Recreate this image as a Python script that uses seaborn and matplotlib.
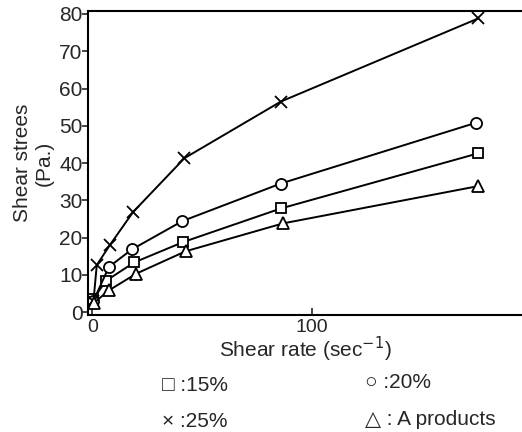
import matplotlib
matplotlib.use("Agg")
import matplotlib.pyplot as plt
import pandas as pd
import seaborn as sns

# values
rate_15 = [0.5, 6.0, 19.0, 41.5, 86.0, 176.0]
stress_15 = [3.5, 8.3, 13.3, 18.8, 27.8, 42.6]

rate_20 = [0.5, 7.5, 18.0, 41.0, 86.0, 175.0]
stress_20 = [3.0, 12.1, 16.8, 24.4, 34.5, 50.8]

rate_25 = [0.5, 2.0, 8.0, 18.5, 42.0, 86.0, 176.0]
stress_25 = [3.0, 12.6, 18.0, 26.8, 41.3, 56.5, 78.8]

rate_a = [0.8, 7.5, 20.0, 42.5, 87.0, 176.0]
stress_a = [2.5, 5.8, 10.3, 16.3, 23.8, 33.8]

series = [
    ("15%", rate_15, stress_15, "s", 7.5),
    ("20%", rate_20, stress_20, "o", 8),
    ("25%", rate_25, stress_25, "x", 9),
    ("A products", rate_a, stress_a, "^", 9),
]

sns.set_theme(style="ticks")
plt.rcParams["font.family"] = ["Liberation Sans", "DejaVu Sans"]

fig = plt.figure(figsize=(5.22, 4.32), dpi=100)
ax = fig.add_axes([0.1686, 0.2708, 0.8314, 0.7037])

for name, xs, ys, marker, size in series:
    df = pd.DataFrame({"rate": xs, "stress": ys})
    sns.lineplot(
        data=df,
        x="rate",
        y="stress",
        ax=ax,
        color="black",
        linewidth=1.4,
        marker=marker,
        markersize=size,
        markerfacecolor="white",
        markeredgecolor="black",
        markeredgewidth=1.3,
        legend=False,
    )

ax.set_xlim(-2, 196)
ax.set_ylim(-0.8, 80.8)
ax.set_xticks([0, 100])
ax.set_yticks(range(0, 81, 10))
ax.tick_params(axis="x", direction="in", length=5, width=1.2, labelsize=14, pad=3)
ax.tick_params(axis="y", direction="out", length=4, width=1.2, labelsize=15, pad=0)
for side in ["left", "bottom", "top"]:
    ax.spines[side].set_linewidth(1.5)
    ax.spines[side].set_color("black")
ax.spines["right"].set_visible(False)

ax.set_xlabel("Shear rate (sec$^{-1}$)", fontsize=15, labelpad=-1)
ax.set_ylabel("Shear strees\n(Pa.)", fontsize=15, labelpad=4, linespacing=1.2)

fig.text(0.31, 0.108, "\u25a1 :15%", fontsize=15, va="center", ha="left")
fig.text(0.70, 0.115, "\u25cb :20%", fontsize=15, va="center", ha="left")
fig.text(0.31, 0.025, "\u00d7 :25%", fontsize=15, va="center", ha="left")
fig.text(0.70, 0.03, "\u25b3 : A products", fontsize=15, va="center", ha="left")

fig.savefig("out.png", dpi=100)
plt.close(fig)
